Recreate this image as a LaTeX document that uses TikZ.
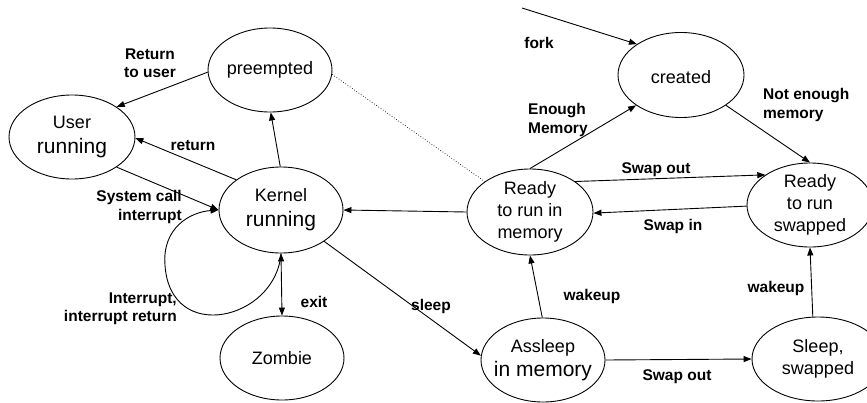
\documentclass[tikz,border=0pt]{standalone}
\usepackage{fontspec}
\setmainfont{Liberation Sans}
\usetikzlibrary{arrows.meta,shapes.geometric}
\begin{document}
\begin{tikzpicture}[x=1pt,y=-1pt,
  st/.style={draw,ellipse,line width=0.9pt,inner sep=0pt,minimum width=124pt,minimum height=84pt},
  nt/.style={align=center,font=\fontsize{18}{22}\selectfont,inner sep=0pt},
  lb/.style={font=\fontsize{15.5}{18.5}\selectfont\bfseries,inner sep=0pt},
  arr/.style={-{Triangle[length=8pt,width=6pt]},line width=0.9pt},
  darr/.style={{Triangle[length=8pt,width=6pt]}-{Triangle[length=8pt,width=6pt]},line width=0.9pt}]
\clip (0,0) rectangle (867,402);
% states
\node[st] (pre) at (270,70) {};
\node[st,minimum width=126pt] (user) at (72,137) {};
\node[st,minimum height=86pt] (ker) at (281,210) {};
\node[st] (zom) at (282,358) {};
\node[st,minimum width=126pt,minimum height=85pt] (cre) at (681,75) {};
\node[st,minimum width=126pt,minimum height=86pt] (rmem) at (530,212) {};
\node[st,minimum width=126pt] (rswp) at (810,205) {};
\node[st] (asl) at (543,360) {};
\node[st,minimum width=132pt] (sswp) at (818,359) {};
% state texts
\node[nt] (preT) at (pre) {preempted};
\node[nt] (userT) at (user) {User\\[3pt]{\fontsize{21}{25}\selectfont running}};
\node[nt] (kerT) at (ker) {Kernel\\[3pt]{\fontsize{21}{25}\selectfont running}};
\node[nt] (zomT) at (zom) {Zombie};
\node[nt] (creT) at ([yshift=-2pt]cre.center) {created};
\node[nt] (rmemT) at (rmem) {Ready\\to run in\\memory};
\node[nt] (rswpT) at (rswp) {Ready\\to run\\swapped};
\node[nt] (aslT) at (asl) {Assleep\\[2pt]{\fontsize{21}{25}\selectfont in memory}};
\node[nt] (sswpT) at (sswp) {Sleep,\\swapped};
% connectors
\coordinate (forkS) at (522,8);
\draw[arr] (pre.182) -- (user.34);
\draw[arr] (ker.146) -- (user.359);
\draw[arr] (user.326) -- (ker.180);
\draw[arr] (ker.91) -- (pre.271);
\draw[dotted,line width=0.7pt] (pre.356) -- (rmem.146);
\draw[arr] (rmem.180) -- (ker.0);
\draw[arr] (rmem.34) -- (rswp.146);
\draw[arr] (rswp.181) -- (rmem.359);
\draw[arr] (rmem.90) -- (cre.214);
\draw[arr] (cre.326) -- (rswp.90);
\draw[arr] (forkS) -- (cre.145);
\draw[arr] (asl.91) -- (rmem.270);
\draw[arr] (asl.0) -- (sswp.180);
\draw[arr] (sswp.97) -- (rswp.270);
\draw[arr] (ker.324) -- (asl.176);
\draw[darr] (ker.270) -- (zom.90);
\draw[arr] (ker.270) .. controls (276,320) and (170,345) .. (165,265)
  .. controls (162,228) and (190,212) .. (ker.180);
% labels
\node[lb,align=center] (lRet) at (150,63) {Return\\to user};
\node[lb] (lreturn) at (193,146) {return};
\node[lb,align=right,anchor=east] (lsys) at (182,207) {System call\\interrupt};
\node[lb,align=right,anchor=east] (lint) at (177,309) {Interrupt,\\interrupt return};
\node[lb] (lexit) at (314,302) {exit};
\node[lb] (lsleep) at (431,306) {sleep};
\node[lb] (lwk1) at (592,296) {wakeup};
\node[lb] (lwk2) at (776,288) {wakeup};
\node[lb] (lso2) at (677,377) {Swap out};
\node[lb] (lsi) at (673,226) {Swap in};
\node[lb] (lso1) at (656,170) {Swap out};
\node[lb,align=left,anchor=west] (lenough) at (528,120) {Enough\\Memory};
\node[lb,align=left,anchor=west] (lnot) at (763,105) {Not enough\\memory};
\node[lb] (lfork) at (539,43) {fork};
\end{tikzpicture}
\end{document}
